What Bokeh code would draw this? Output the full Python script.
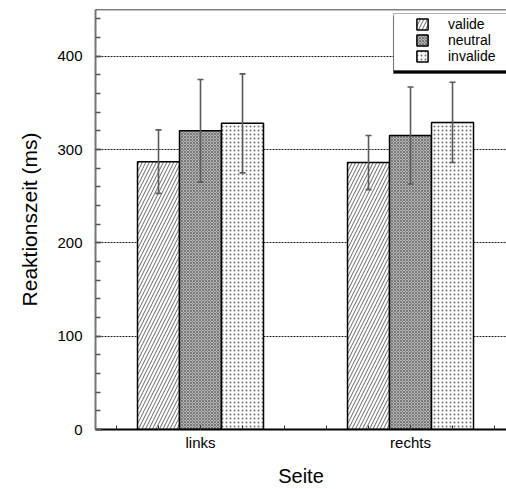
from bokeh.plotting import figure
from bokeh.models import (ColumnDataSource, Range1d, FixedTicker, Whisker, TeeHead,
                          Legend, LegendItem, Span, BoxAnnotation)
from bokeh.embed import file_html
from bokeh.resources import INLINE

# ---- data ----
categories = ["links", "rechts"]
conditions = ["valide", "neutral", "invalide"]
valide = [287, 286]
neutral = [320, 315]
invalide = [328, 329]
err_valide = [34, 29]
err_neutral = [55, 52]
err_invalide = [53, 43]
y_ticks = [0, 100, 200, 300, 400]

FONT = "Liberation Sans"

p = figure(width=506, height=489, output_backend="svg", toolbar_location=None,
           x_range=Range1d(0, 1.957), y_range=Range1d(0, 450),
           min_border_left=95, min_border_right=0, min_border_top=9, min_border_bottom=60)
p.outline_line_color = None
p.background_fill_color = "white"
p.border_fill_color = "white"

cat_pos = [i + 0.5 for i in range(len(categories))]
bar_w = 0.2
offsets = [-0.2, 0.0, 0.2]
series = [valide, neutral, invalide]
errors = [err_valide, err_neutral, err_invalide]
styles = [
    dict(fill_color="white", hatch_pattern="/", hatch_color="black", hatch_scale=7, hatch_weight=0.6),
    dict(fill_color="#b4b4b4", hatch_pattern="x", hatch_color="#505050", hatch_scale=3, hatch_weight=0.6),
    dict(fill_color="white", hatch_pattern=".", hatch_color="#707070", hatch_scale=4, hatch_weight=0.6),
]

renderers = []
for vals, off, st in zip(series, offsets, styles):
    src = ColumnDataSource(dict(x=[c + off for c in cat_pos], top=vals))
    r = p.vbar(x="x", top="top", bottom=0, width=bar_w, source=src,
               line_color="black", line_width=1.5, **st)
    renderers.append(r)

for vals, errs, off in zip(series, errors, offsets):
    src = ColumnDataSource(dict(x=[c + off for c in cat_pos],
                                upper=[v + e for v, e in zip(vals, errs)],
                                lower=[v - e for v, e in zip(vals, errs)]))
    w = Whisker(base="x", upper="upper", lower="lower", source=src, dimension="height",
                line_color="#5a5a5a", line_width=1.6, level="annotation",
                upper_head=TeeHead(size=6, line_color="#5a5a5a", line_width=1.6),
                lower_head=TeeHead(size=6, line_color="#5a5a5a", line_width=1.6))
    p.add_layout(w)

# top border line
p.add_layout(Span(location=450, dimension="width", line_color="black", line_width=1.5))

# grid
p.xgrid.grid_line_color = None
p.ygrid.ticker = FixedTicker(ticks=y_ticks)
p.ygrid.grid_line_color = "#222222"
p.ygrid.grid_line_dash = "2 1"
p.ygrid.grid_line_width = 1

# y axis
p.yaxis.ticker = FixedTicker(ticks=y_ticks, minor_ticks=list(range(0, 460, 20)))
p.yaxis.axis_label = "Reaktionszeit (ms)"
p.yaxis.axis_label_text_font = FONT
p.yaxis.axis_label_text_font_size = "21px"
p.yaxis.axis_label_text_font_style = "normal"
p.yaxis.axis_label_text_color = "black"
p.yaxis.axis_label_standoff = 13
p.yaxis.major_label_text_font = FONT
p.yaxis.major_label_text_font_size = "15px"
p.yaxis.major_label_text_color = "black"
p.yaxis.major_label_standoff = 13
p.yaxis.axis_line_color = "#777777"
p.yaxis.axis_line_width = 2
p.yaxis.major_tick_in = 6
p.yaxis.major_tick_out = 0
p.yaxis.minor_tick_in = 5
p.yaxis.minor_tick_out = 0
p.yaxis.major_tick_line_color = "#555555"
p.yaxis.minor_tick_line_color = "#555555"
p.yaxis.major_tick_line_width = 1.5
p.yaxis.minor_tick_line_width = 1.5

# x axis
minor_x = [0.1 + 0.2 * k for k in range(10)]
p.xaxis.ticker = FixedTicker(ticks=cat_pos, minor_ticks=minor_x)
p.xaxis.major_label_overrides = {c: lab for c, lab in zip(cat_pos, categories)}
p.xaxis.axis_label = "Seite"
p.xaxis.axis_label_text_font = FONT
p.xaxis.axis_label_text_font_size = "20px"
p.xaxis.axis_label_text_font_style = "normal"
p.xaxis.axis_label_text_color = "black"
p.xaxis.axis_label_standoff = 11
p.xaxis.major_label_text_font = FONT
p.xaxis.major_label_text_font_size = "15px"
p.xaxis.major_label_text_color = "black"
p.xaxis.major_label_standoff = 4
p.xaxis.axis_line_color = "black"
p.xaxis.axis_line_width = 2
p.xaxis.major_tick_in = 4
p.xaxis.major_tick_out = 0
p.xaxis.minor_tick_in = 4
p.xaxis.minor_tick_out = 0
p.xaxis.major_tick_line_color = "#333333"
p.xaxis.minor_tick_line_color = "#333333"

# legend frame (with shadow)
p.add_layout(BoxAnnotation(left=1.419, right=1.99, top=442.5, bottom=381.4,
                           fill_color="black", fill_alpha=1, line_color="black", level="overlay"))
p.add_layout(BoxAnnotation(left=1.419, right=1.99, top=445.7, bottom=384.6,
                           fill_color="white", fill_alpha=1, line_color="black", line_width=1.2,
                           level="overlay"))

legend = Legend(items=[LegendItem(label=c, renderers=[r]) for c, r in zip(conditions, renderers)],
                location=(320, 365), padding=0, margin=0, spacing=0,
                glyph_width=14, glyph_height=14, label_height=14, label_standoff=19,
                label_text_font=FONT, label_text_font_size="14px", label_text_color="black",
                border_line_color=None, background_fill_alpha=0)
p.add_layout(legend)

open("out.html", "w").write(file_html(p, INLINE))
